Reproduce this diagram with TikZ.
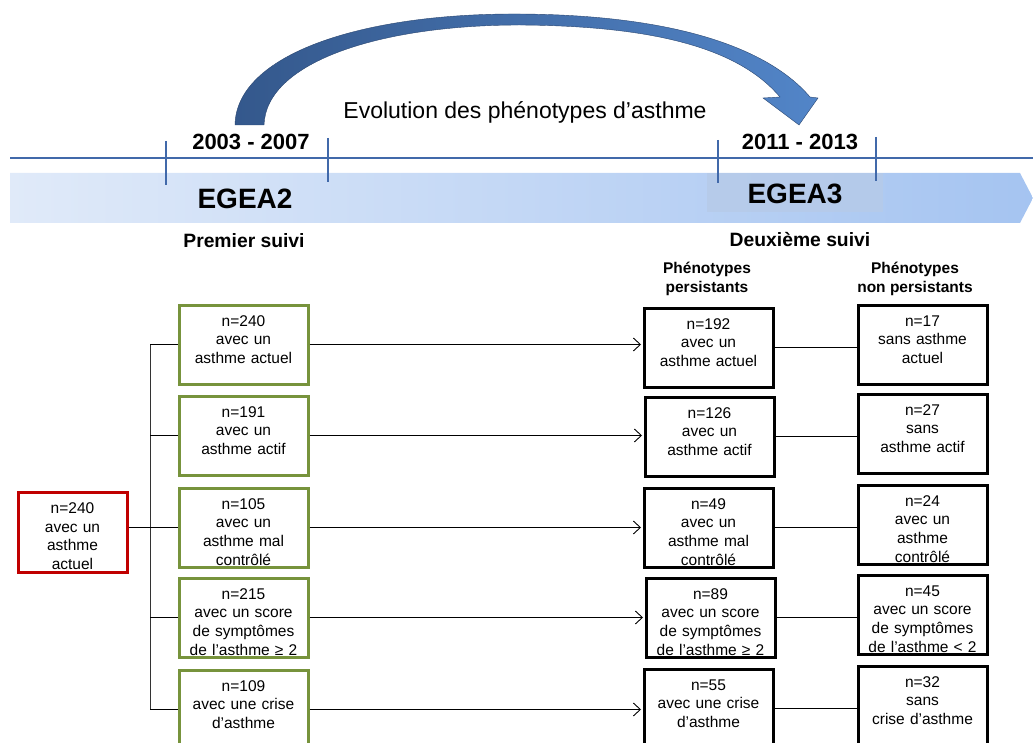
\documentclass[tikz,border=0pt]{standalone}
\usepackage{fontspec}
\setmainfont{Liberation Sans}
\usetikzlibrary{arrows.meta}
\definecolor{TimeClr}{RGB}{65,105,170}
\definecolor{BandLeft}{RGB}{224,234,249}
\definecolor{BandRight}{RGB}{165,196,241}
\definecolor{EgeaClr}{RGB}{182,202,232}
\definecolor{ArcDark}{RGB}{52,88,140}
\definecolor{ArcLight}{RGB}{82,133,200}
\definecolor{GrnClr}{RGB}{119,147,60}
\definecolor{RedClr}{RGB}{192,0,0}

\begin{document}
\begin{tikzpicture}[x=1pt,y=-1pt]
\tikzset{
  cbox/.style={draw, line width=3pt, align=center, anchor=north west,
    font=\fontsize{15.5}{18.7}\selectfont, text width=121pt,
    inner xsep=4pt, inner ysep=4pt, text height=17pt, text depth=54pt},
  grnbox/.style={cbox, draw=GrnClr},
  blkbox/.style={cbox, draw=black},
  redbox/.style={cbox, draw=RedClr, text width=101pt, text height=17.5pt, text depth=54.5pt},
  link/.style={line width=0.9pt, black},
  fleche/.style={link, -{Straight Barb[length=7pt,width=13pt]}, shorten >=1.5pt},
  tickln/.style={TimeClr, line width=1.1pt},
  yearlbl/.style={font=\bfseries\fontsize{22}{26}\selectfont, anchor=base},
  egealbl/.style={font=\bfseries\fontsize{28}{32}\selectfont, anchor=base},
  suivilbl/.style={font=\bfseries\fontsize{19.3}{23}\selectfont, anchor=base},
  phenlbl/.style={font=\bfseries\fontsize{15.5}{19}\selectfont, align=center, anchor=north, inner sep=0pt}
}
\clip (0,0) rectangle (1033,743);

% bandeau
\shade[left color=BandLeft, right color=BandRight]
  (10,173) -- (1020,173) -- (1033,198) -- (1020,223) -- (10,223) -- cycle;
\fill[EgeaClr, opacity=.8] (707,173) rectangle (883,212);

% ligne du temps
\draw[tickln] (10,158) -- (1033,158);
\draw[tickln] (166,141) -- (166,185);
\draw[tickln] (328,138) -- (328,182);
\draw[tickln] (718,140) -- (718,183);
\draw[tickln] (876,137) -- (876,181);

% grande fleche courbe
\shadedraw[left color=ArcDark, right color=ArcLight, draw=ArcDark!80!black, line width=.4pt]
  (235,125) .. controls (236,55) and (360,13) .. (520,14)
  .. controls (680,15) and (770,50) .. (810,97)
  -- (818,98) -- (799,125) -- (763,98) -- (780,97)
  .. controls (740,50) and (660,26) .. (520,25)
  .. controls (380,25) and (266,62) .. (264,125) -- cycle;

\node[font=\fontsize{23}{27}\selectfont, anchor=base] (evol) at (525,119) {Evolution des phénotypes d’asthme};
\node[yearlbl] (yr1) at (251,150) {2003 - 2007};
\node[yearlbl] (yr2) at (800,150) {2011 - 2013};
\node[egealbl] (egea2) at (245,209) {EGEA2};
\node[egealbl] (egea3) at (795,204) {EGEA3};
\node[suivilbl] (suivi1) at (244,248) {Premier suivi};
\node[suivilbl] (suivi2) at (800,247) {Deuxième suivi};
\node[phenlbl] (phen1) at (707,262) {Phénotypes\\persistants};
\node[phenlbl] (phen2) at (915,262) {Phénotypes\\non persistants};

% population de depart
\node[redbox] (red) at (16.5,490.5) {n=240\\avec un\\asthme\\actuel};

% premier suivi
\node[grnbox] (g1) at (177.5,303.5) {n=240\\avec un\\asthme actuel};
\node[grnbox] (g2) at (177.5,394.5) {n=191\\avec un\\asthme actif};
\node[grnbox] (g3) at (177.5,486.5) {n=105\\avec un\\asthme mal\\contrôlé};
\node[grnbox] (g4) at (177.5,576.5) {n=215\\avec un score\\de symptômes\\de l’asthme ≥ 2};
\node[grnbox] (g5) at (177.5,668.5) {n=109\\avec une crise\\d’asthme};

% phenotypes persistants
\node[blkbox] (p1) at (642.5,306.5) {n=192\\avec un\\asthme actuel};
\node[blkbox] (p2) at (643.5,395.5) {n=126\\avec un\\asthme actif};
\node[blkbox] (p3) at (642.5,486.5) {n=49\\avec un\\asthme mal\\contrôlé};
\node[blkbox] (p4) at (644.5,576.5) {n=89\\avec un score\\de symptômes\\de l’asthme ≥ 2};
\node[blkbox] (p5) at (642.5,667.5) {n=55\\avec une crise\\d’asthme};

% phenotypes non persistants
\node[blkbox] (q1) at (856.5,303.5) {n=17\\sans asthme\\actuel};
\node[blkbox] (q2) at (856.5,392.5) {n=27\\sans\\asthme actif};
\node[blkbox] (q3) at (856.5,483.5) {n=24\\avec un\\asthme\\contrôlé};
\node[blkbox] (q4) at (856.5,573.5) {n=45\\avec un score\\de symptômes\\de l’asthme < 2};
\node[blkbox] (q5) at (856.5,664.5) {n=32\\sans\\crise d’asthme};

% liaisons
\coordinate (trunk) at (150,527);
\draw[link] (red.east |- g3.west) -- (g3.west);
\draw[link, black!80] (g1.west -| trunk) -- (g5.west -| trunk);
\foreach \i in {1,...,5}{
  \draw[link] (g\i.west -| trunk) -- (g\i.west);
  \draw[fleche] (g\i.east) -- (g\i.east -| p\i.west);
  \draw[link] (p\i.east) -- (p\i.east -| q\i.west);
}

\end{tikzpicture}
\end{document}
